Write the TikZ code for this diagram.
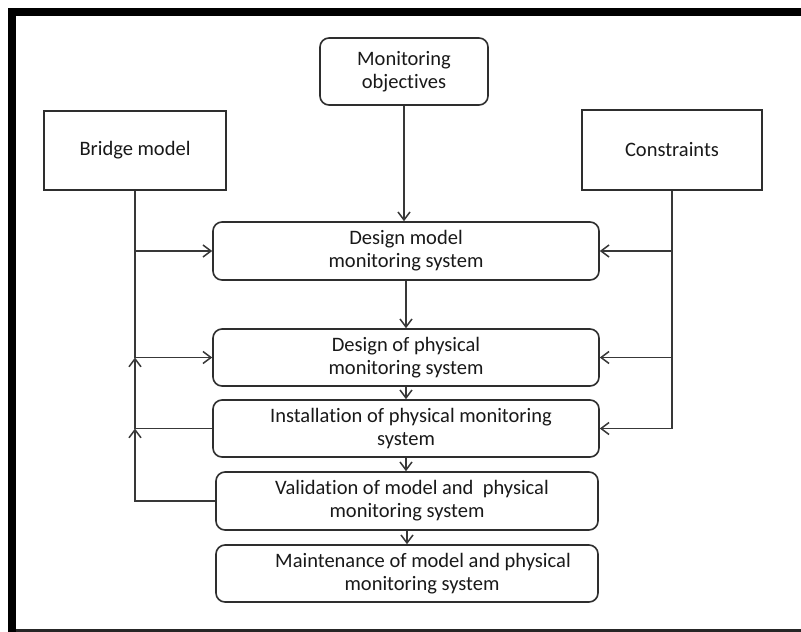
\documentclass[tikz,border=0pt]{standalone}
\usepackage{fontspec}
\setmainfont{Carlito}[Ligatures=NoCommon]
\usetikzlibrary{arrows.meta}
\definecolor{boxc}{HTML}{2E2E2E}
\definecolor{linec}{HTML}{383838}
\begin{document}
\begin{tikzpicture}[x=1pt,y=-1pt,
  txt/.style={align=center, font=\fontsize{20.5}{23}\selectfont, text=black!90},
  rbox/.style={txt, draw=boxc, line width=1.6pt, rounded corners=9pt, inner sep=0pt},
  sbox/.style={txt, draw=boxc, line width=1.6pt, inner sep=0pt},
  conn/.style={draw=linec, line width=1.6pt},
  arr/.style={conn, -{Straight Barb[length=8pt,width=12pt,line width=1.5pt]}}]
\useasboundingbox (0,0) rectangle (801,632);
\fill[white] (0,0) rectangle (801,632);
\fill[black] (8,8) rectangle (801,16);
\fill[black] (8,8) rectangle (16,632);
\fill[black!85] (16,629) rectangle (801,632);

\node[rbox, minimum width=168pt, minimum height=67pt] (obj) at (404,71.5) {Monitoring\\objectives};
\node[sbox, minimum width=182pt, minimum height=79pt] (bm) at (135,150.5) {Bridge model};
\node[sbox, minimum width=180pt, minimum height=80pt] (con) at (672,150) {Constraints};
\node[rbox, minimum width=386pt, minimum height=58pt] (dm) at (406,251) {Design model\\monitoring system};
\node[rbox, minimum width=386pt, minimum height=57pt] (dp) at (406,357.5) {Design of physical\\monitoring system};
\node[rbox, minimum width=386pt, minimum height=57pt] (inst) at (406,428.5) {\hspace*{10pt}Installation of physical monitoring\\system};
\node[rbox, minimum width=382pt, minimum height=58pt] (val) at (407,501) {\hspace*{10pt}Validation of model and \ physical\\monitoring system};
\node[rbox, minimum width=382pt, minimum height=57pt] (mnt) at (407,573.5) {\hspace*{32pt}Maintenance of model and physical\\\hspace*{30pt}monitoring system};

\coordinate (j1) at (bm.south |- dp.west);
\coordinate (j2) at (bm.south |- inst.west);

\draw[arr] (bm.south) |- (dm.west);
\draw[arr] (bm.south) |- (dp.west);
\draw[arr] (inst.west) -| (j1);
\draw[arr] (val.west) -| (j2);

\draw[arr] (con.south) |- (dm.east);
\draw[arr] (con.south) |- (dp.east);
\draw[arr] (con.south) |- (inst.east);

\draw[arr] (obj.south) -- (obj.south |- dm.north);
\draw[arr] (dm.south) -- (dm.south |- dp.north);
\draw[arr] (dp.south) -- (dp.south |- inst.north);
\draw[arr] (inst.south) -- (inst.south |- val.north);
\draw[arr] (val.south) -- (val.south |- mnt.north);
\end{tikzpicture}
\end{document}
